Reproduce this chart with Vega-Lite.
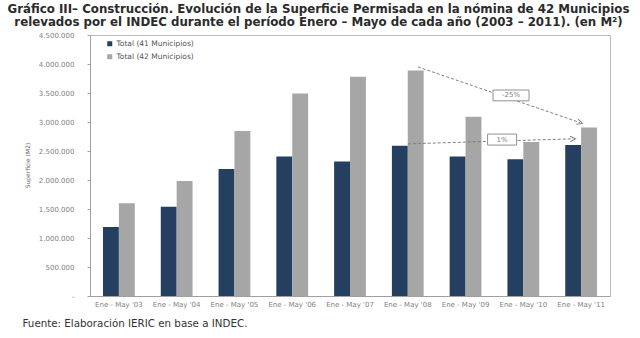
{
  "$schema": "https://vega.github.io/schema/vega-lite/v6.json",
  "width": 520,
  "height": 261,
  "autosize": "none",
  "padding": {"left": 90, "top": 35, "right": 30, "bottom": 42},
  "background": "white",
  "config": {"font": "DejaVu Sans", "view": {"stroke": "#b8b8b8", "strokeWidth": 1}},
  "title": {
    "text": ["Gráfico III– Construcción. Evolución de la Superficie Permisada en la nómina de 42 Municipios", "relevados por el INDEC durante el período Enero – Mayo de cada año (2003 – 2011). (en M²)"],
    "fontSize": 11.8,
    "fontWeight": "bold",
    "color": "#2b2b2b",
    "anchor": "middle",
    "dx": -31.5,
    "offset": 2,
    "lineHeight": 13
  },
  "datasets": {
    "bars": [
      {"periodo": "Ene - May '03", "serie": "Total (41 Municipios)", "valor": 1190000},
      {"periodo": "Ene - May '03", "serie": "Total (42 Municipios)", "valor": 1600000},
      {"periodo": "Ene - May '04", "serie": "Total (41 Municipios)", "valor": 1538000},
      {"periodo": "Ene - May '04", "serie": "Total (42 Municipios)", "valor": 1981000},
      {"periodo": "Ene - May '05", "serie": "Total (41 Municipios)", "valor": 2190000},
      {"periodo": "Ene - May '05", "serie": "Total (42 Municipios)", "valor": 2846000},
      {"periodo": "Ene - May '06", "serie": "Total (41 Municipios)", "valor": 2404000},
      {"periodo": "Ene - May '06", "serie": "Total (42 Municipios)", "valor": 3490000},
      {"periodo": "Ene - May '07", "serie": "Total (41 Municipios)", "valor": 2317000},
      {"periodo": "Ene - May '07", "serie": "Total (42 Municipios)", "valor": 3780000},
      {"periodo": "Ene - May '08", "serie": "Total (41 Municipios)", "valor": 2590000},
      {"periodo": "Ene - May '08", "serie": "Total (42 Municipios)", "valor": 3890000},
      {"periodo": "Ene - May '09", "serie": "Total (41 Municipios)", "valor": 2404000},
      {"periodo": "Ene - May '09", "serie": "Total (42 Municipios)", "valor": 3090000},
      {"periodo": "Ene - May '10", "serie": "Total (41 Municipios)", "valor": 2358000},
      {"periodo": "Ene - May '10", "serie": "Total (42 Municipios)", "valor": 2657000},
      {"periodo": "Ene - May '11", "serie": "Total (41 Municipios)", "valor": 2605000},
      {"periodo": "Ene - May '11", "serie": "Total (42 Municipios)", "valor": 2905000}
    ],
    "arrow1": [{"desde": "Ene - May '08", "hasta": "Ene - May '11", "valor": 3950000, "valor2": 2990000}],
    "arrow2": [{"desde": "Ene - May '08", "hasta": "Ene - May '11", "valor": 2623000, "valor2": 2710000}],
    "head1": [{"periodo": "Ene - May '11", "valor": 2990000}],
    "head2": [{"periodo": "Ene - May '11", "valor": 2710000}],
    "label1": [{"periodo": "Ene - May '09", "valor": 3458000, "texto": "-25%"}],
    "label2": [{"periodo": "Ene - May '09", "valor": 2697000, "texto": "1%"}]
  },
  "encoding": {
    "y": {
      "field": "valor", "type": "quantitative",
      "scale": {"domain": [0, 4500000]},
      "axis": {
        "values": [0, 500000, 1000000, 1500000, 2000000, 2500000, 3000000, 3500000, 4000000, 4500000],
        "labelExpr": "datum.value == 0 ? '-' : replace(format(datum.value, ','), regexp(',', 'g'), '.')",
        "labelFontSize": 7, "labelColor": "#7f7f7f", "labelPadding": 13, "labelOverlap": false,
        "tickSize": 3, "tickColor": "#a0a0a0", "domainColor": "#a0a0a0", "grid": false,
        "title": "Superficie (M2)", "titleFontSize": 6, "titleFontWeight": "normal", "titleColor": "#666666",
        "titleX": -60, "titleY": 130
      }
    }
  },
  "layer": [
    {
      "data": {"name": "bars"},
      "mark": {"type": "bar"},
      "encoding": {
        "x": {
          "field": "periodo", "type": "nominal", "sort": null,
          "scale": {"paddingInner": 0.45, "paddingOuter": 0.225},
          "axis": {
            "labelAngle": 0, "labelFontSize": 7, "labelColor": "#7f7f7f", "labelPadding": 4,
            "ticks": false, "domainColor": "#a0a0a0", "labelOverlap": false,
            "title": "Fuente: Elaboración IERIC en base a INDEC.",
            "titleFontSize": 10.3, "titleFontWeight": "normal", "titleColor": "#333333",
            "titleAlign": "left", "titleAnchor": "start", "titleX": -68, "titleY": 27, "titleBaseline": "middle"
          }
        },
        "xOffset": {"field": "serie", "type": "nominal"},
        "color": {
          "field": "serie", "type": "nominal",
          "scale": {"range": ["#243f60", "#a6a6a6"]},
          "legend": {
            "title": null, "orient": "none", "legendX": 16, "legendY": 5,
            "symbolType": "square", "symbolSize": 25, "symbolStrokeWidth": 0,
            "labelFontSize": 7.5, "labelColor": "#555555", "rowPadding": 4, "labelOffset": 3
          }
        }
      }
    },
    {
      "data": {"name": "arrow1"},
      "mark": {"type": "rule", "strokeDash": [3, 2], "color": "#808080", "strokeWidth": 1},
      "encoding": {
        "x": {"field": "desde", "type": "nominal", "bandPosition": 0.82},
        "x2": {"field": "hasta", "bandPosition": 0.46},
        "y2": {"field": "valor2"}
      }
    },
    {
      "data": {"name": "head1"},
      "mark": {"type": "point", "shape": "M-1,-1L1,0L-1,1", "filled": false, "color": "#808080", "size": 30, "angle": 19, "strokeWidth": 1, "opacity": 1},
      "encoding": {
        "x": {"field": "periodo", "type": "nominal", "bandPosition": 0.46}
      }
    },
    {
      "data": {"name": "arrow2"},
      "mark": {"type": "rule", "strokeDash": [3, 2], "color": "#808080", "strokeWidth": 1},
      "encoding": {
        "x": {"field": "desde", "type": "nominal", "bandPosition": 0.5},
        "x2": {"field": "hasta", "bandPosition": 0.24},
        "y2": {"field": "valor2"}
      }
    },
    {
      "data": {"name": "head2"},
      "mark": {"type": "point", "shape": "M-1,-1L1,0L-1,1", "filled": false, "color": "#808080", "size": 30, "angle": -2, "strokeWidth": 1, "opacity": 1},
      "encoding": {
        "x": {"field": "periodo", "type": "nominal", "bandPosition": 0.24}
      }
    },
    {
      "data": {"name": "label1"},
      "mark": {"type": "point", "shape": "M-1,-0.3L1,-0.3L1,0.3L-1,0.3Z", "size": 1296, "filled": true, "fill": "white", "stroke": "#909090", "strokeWidth": 1, "opacity": 1},
      "encoding": {
        "x": {"field": "periodo", "type": "nominal", "bandPosition": 1.93}
      }
    },
    {
      "data": {"name": "label1"},
      "mark": {"type": "text", "fontSize": 7, "color": "#808080"},
      "encoding": {
        "x": {"field": "periodo", "type": "nominal", "bandPosition": 1.93},
        "text": {"field": "texto"}
      }
    },
    {
      "data": {"name": "label2"},
      "mark": {"type": "point", "shape": "M-1,-0.38L1,-0.38L1,0.38L-1,0.38Z", "size": 841, "filled": true, "fill": "white", "stroke": "#909090", "strokeWidth": 1, "opacity": 1},
      "encoding": {
        "x": {"field": "periodo", "type": "nominal", "bandPosition": 1.65}
      }
    },
    {
      "data": {"name": "label2"},
      "mark": {"type": "text", "fontSize": 7, "color": "#808080"},
      "encoding": {
        "x": {"field": "periodo", "type": "nominal", "bandPosition": 1.65},
        "text": {"field": "texto"}
      }
    }
  ]
}
